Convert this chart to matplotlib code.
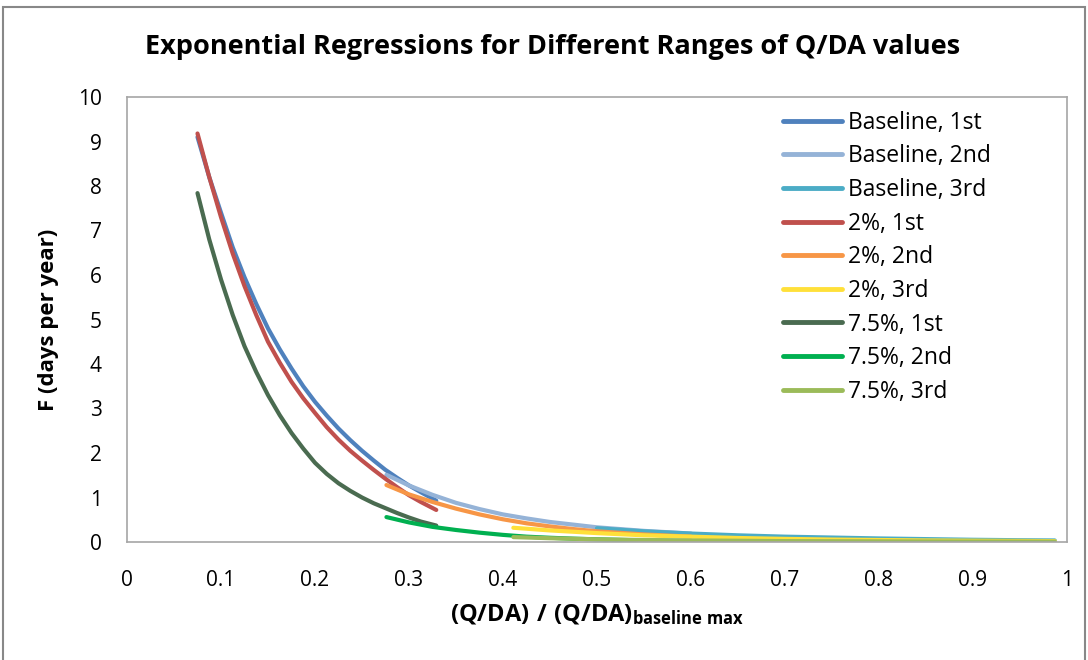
import matplotlib
matplotlib.use("Agg")
import matplotlib.pyplot as plt
from matplotlib.patches import Rectangle

plt.rcParams['font.family'] = ['Open Sans', 'DejaVu Sans']
plt.rcParams['mathtext.fontset'] = 'custom'
plt.rcParams['mathtext.bf'] = 'Open Sans:bold'
plt.rcParams['mathtext.rm'] = 'Open Sans'

# values
x_first = [0.075, 0.0875, 0.1, 0.1125, 0.125, 0.1375, 0.15, 0.1625, 0.175, 0.1875, 0.2,
           0.2125, 0.225, 0.2375, 0.25, 0.2625, 0.275, 0.2875, 0.3, 0.3125, 0.329]
base_1st = [9.1, 8.2, 7.4, 6.62, 5.95, 5.35, 4.8, 4.33, 3.9, 3.5, 3.15,
            2.84, 2.55, 2.29, 2.05, 1.83, 1.62, 1.44, 1.27, 1.12, 0.93]
pct2_1st = [9.18, 8.2, 7.3, 6.48, 5.75, 5.1, 4.5, 4.03, 3.6, 3.23, 2.9,
            2.58, 2.3, 2.05, 1.83, 1.62, 1.42, 1.23, 1.05, 0.9, 0.72]
pct75_1st = [7.84, 6.8, 5.9, 5.1, 4.4, 3.82, 3.3, 2.85, 2.45, 2.1, 1.78,
             1.53, 1.32, 1.15, 1.0, 0.87, 0.76, 0.65, 0.55, 0.46, 0.37]

x_second = [0.276, 0.3, 0.325, 0.35, 0.375, 0.4, 0.425, 0.45, 0.475, 0.5, 0.55, 0.6]
base_2nd = [1.51, 1.27, 1.06, 0.88, 0.74, 0.62, 0.53, 0.45, 0.39, 0.33, 0.25, 0.19]
pct2_2nd = [1.28, 1.07, 0.9, 0.75, 0.62, 0.51, 0.42, 0.35, 0.29, 0.24, 0.17, 0.12]
pct75_2nd = [0.56, 0.44, 0.34, 0.27, 0.21, 0.16, 0.12, 0.095, 0.075, 0.06, 0.035, 0.02]

x_base_3rd = [0.5, 0.55, 0.6, 0.65, 0.7, 0.75, 0.8, 0.85, 0.9, 0.95, 0.987]
base_3rd = [0.31, 0.24, 0.19, 0.15, 0.12, 0.1, 0.08, 0.065, 0.05, 0.04, 0.035]

x_third = [0.411, 0.45, 0.5, 0.55, 0.6, 0.65, 0.7, 0.75, 0.8, 0.85, 0.9, 0.95, 0.987]
pct2_3rd = [0.32, 0.26, 0.2, 0.15, 0.12, 0.09, 0.07, 0.055, 0.045, 0.035, 0.03, 0.025, 0.02]
pct75_3rd = [0.11, 0.085, 0.06, 0.045, 0.035, 0.028, 0.02, 0.017, 0.015, 0.012, 0.01, 0.009, 0.008]

series = [
    ("Baseline, 1st", x_first, base_1st, "#4F81BD"),
    ("Baseline, 2nd", x_second, base_2nd, "#95B3D7"),
    ("Baseline, 3rd", x_base_3rd, base_3rd, "#4BACC6"),
    ("2%, 1st", x_first, pct2_1st, "#C0504D"),
    ("2%, 2nd", x_second, pct2_2nd, "#F79646"),
    ("2%, 3rd", x_third, pct2_3rd, "#FFE03A"),
    ("7.5%, 1st", x_first, pct75_1st, "#4A6B50"),
    ("7.5%, 2nd", x_second, pct75_2nd, "#00B050"),
    ("7.5%, 3rd", x_third, pct75_3rd, "#9BBB59"),
]

fig = plt.figure(figsize=(10.88, 6.6), dpi=100)
ax = fig.add_axes([127/1088, 1 - 542/660, 940/1088, 445/660])

for label, xs, ys, col in series:
    ax.plot(xs, ys, color=col, lw=3.0, label=label,
            solid_capstyle='round', solid_joinstyle='round')

ax.set_xlim(0, 1)
ax.set_ylim(0, 10)
ax.set_xticks([i / 10 for i in range(11)])
ax.set_xticklabels(["0"] + ["0.%d" % i for i in range(1, 10)] + ["1"])
ax.set_yticks(range(11))
ax.tick_params(length=0, labelsize=15, colors='black')
ax.tick_params(axis='x', pad=20)
ax.tick_params(axis='y', pad=18)
for sp in ax.spines.values():
    sp.set_color('#A6A6A6')
    sp.set_linewidth(1.2)

leg = ax.legend(loc='upper left', bbox_to_anchor=(0.683, 1.0), frameon=False,
                fontsize=16.5, handlelength=2.6, handletextpad=0.25,
                labelspacing=0.42, borderaxespad=0.2)
for h in leg.get_lines():
    h.set_linewidth(3.5)

fig.text(0.508, 1 - 47/660, "Exponential Regressions for Different Ranges of Q/DA values",
         ha='center', va='center', fontsize=19.5, fontweight='bold')
ax.set_ylabel("F (days per year)", fontsize=16, fontweight='bold', labelpad=14)
ax.set_xlabel(r"$\mathbf{(Q/DA)\ /\ (Q/DA)_{baseline\ max}}$", fontsize=17, labelpad=8)

fig.patches.append(Rectangle((3/1088, -0.05), 1082/1088, 1.05 - 7/660,
                             transform=fig.transFigure, fill=False,
                             edgecolor='#888888', lw=1.5))

fig.savefig("out.png", dpi=100)
